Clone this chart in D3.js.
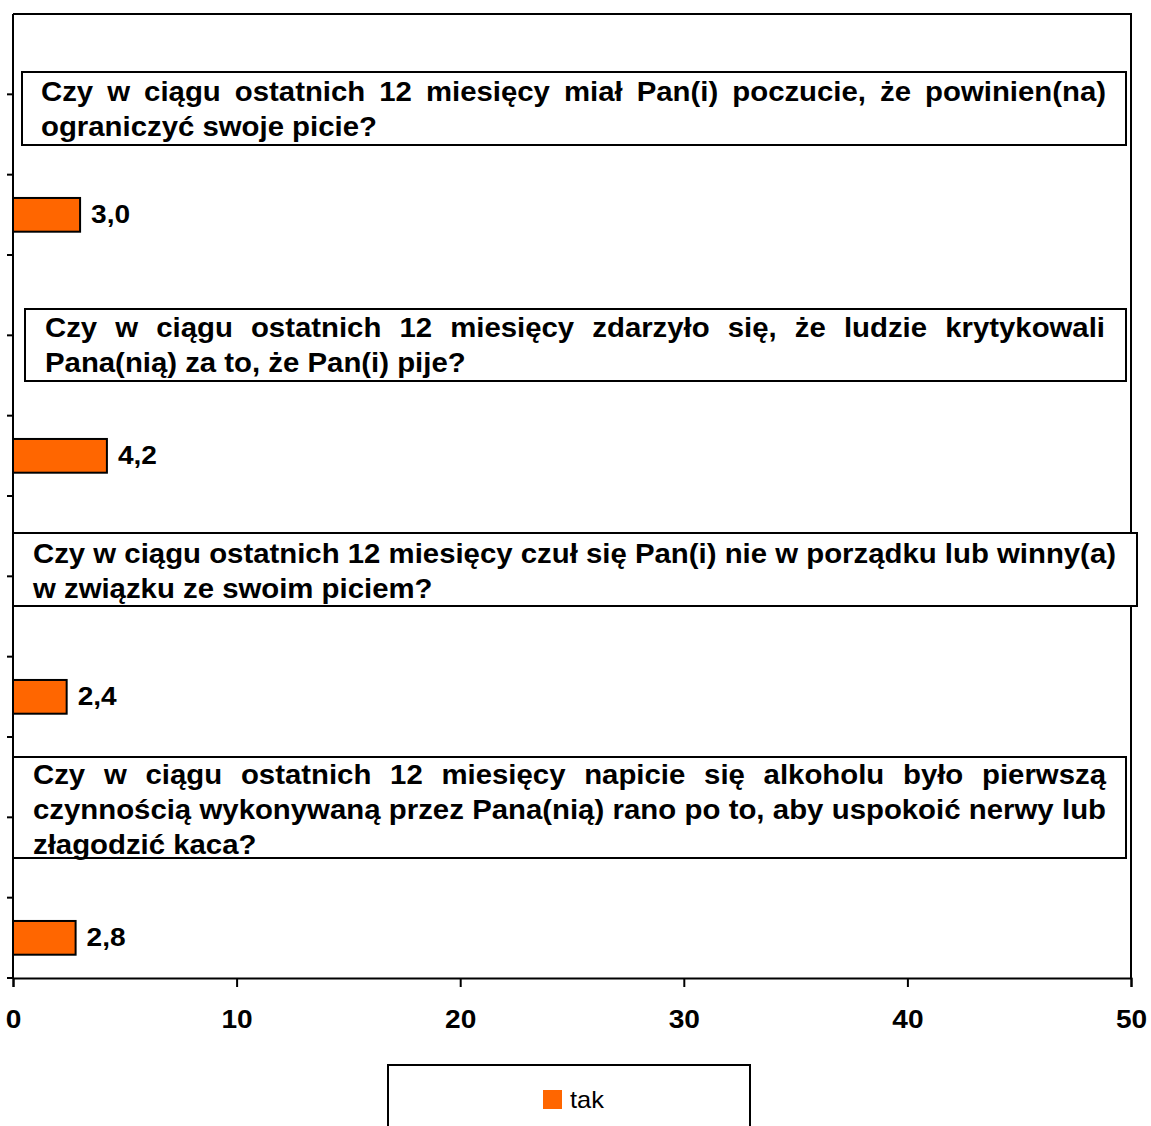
<!DOCTYPE html>
<html><head><meta charset="utf-8">
<script src="https://cdn.jsdelivr.net/npm/d3@7"></script>
<style>
html,body{margin:0;padding:0;background:#fff;}
svg{display:block;}
</style></head>
<body>
<svg id="chart" width="1151" height="1126"></svg>
<script>
// ---- data ----
const questions = [
  ["Czy w ciągu ostatnich 12 miesięcy miał Pan(i) poczucie, że powinien(na)", "ograniczyć swoje picie?"],
  ["Czy w ciągu ostatnich 12 miesięcy zdarzyło się, że ludzie krytykowali", "Pana(nią) za to, że Pan(i) pije?"],
  ["Czy w ciągu ostatnich 12 miesięcy czuł się Pan(i) nie w porządku lub winny(a)", "w związku ze swoim piciem?"],
  ["Czy w ciągu ostatnich 12 miesięcy napicie się alkoholu było pierwszą", "czynnością wykonywaną przez Pana(nią) rano po to, aby uspokoić nerwy lub", "złagodzić kaca?"]
];
const values = [3.0, 4.2, 2.4, 2.8];
const valueLabels = ["3,0", "4,2", "2,4", "2,8"];
const xTicks = [0, 10, 20, 30, 40, 50];
const seriesName = "tak";

// ---- layout ----
const M = {left: 13, top: 14, right: 1131, bottom: 978};
const font = "'Liberation Sans', Arial, Helvetica, sans-serif";
const rowsPerQ = 3;
const nRows = questions.length * rowsPerQ;
const boxLayout = [
  {x0: 22, x1: 1126, y0: 72, y1: 145, tx0: 41, tx1: 1106, firstBase: 101},
  {x0: 25, x1: 1126, y0: 309, y1: 381, tx0: 45, tx1: 1105, firstBase: 337},
  {x0: 13, x1: 1137, y0: 533, y1: 606, tx0: 33, tx1: 1116, firstBase: 562.5},
  {x0: 13, x1: 1126, y0: 757, y1: 858, tx0: 33, tx1: 1106, firstBase: 783.5}
];
const lineH = 35;
const qfs = 27;      // question font size
const lfs = 26;      // labels font size
const labelScale = 1.08;

const svg = d3.select("#chart");
const x = d3.scaleLinear().domain([0, 50]).range([M.left, M.right]);
const y = d3.scaleBand().domain(d3.range(nRows)).range([M.top, M.bottom]).paddingInner(0.58).paddingOuter(0.29);
const yRows = d3.scaleBand().domain(d3.range(nRows)).range([M.top, M.bottom]);

// frame top/right
svg.append("path")
  .attr("d", `M${M.left},${M.top}H${M.right}V${M.bottom}`)
  .attr("fill", "none").attr("stroke", "#000").attr("stroke-width", 2);

// left axis with ticks at row boundaries
const leftTicks = d3.range(1, nRows + 1).map(i => M.top + yRows.step() * i);
svg.append("line").attr("x1", M.left).attr("x2", M.left).attr("y1", M.top).attr("y2", M.bottom)
  .attr("stroke", "#000").attr("stroke-width", 2);
svg.selectAll(".lt").data(leftTicks).join("line")
  .attr("x1", M.left - 6).attr("x2", M.left).attr("y1", d => d).attr("y2", d => d)
  .attr("stroke", "#000").attr("stroke-width", 2);

// bottom axis
const xAxis = d3.axisBottom(x).tickValues(xTicks).tickSize(9).tickPadding(23).tickFormat(d3.format("d"));
const gx = svg.append("g").attr("transform", `translate(0,${M.bottom})`).call(xAxis);
gx.select(".domain").attr("stroke", "#000").attr("stroke-width", 2);
gx.selectAll(".tick line").attr("stroke", "#000").attr("stroke-width", 2);
gx.selectAll(".tick text").attr("font-family", font).attr("font-size", lfs).attr("font-weight", "bold")
  .attr("fill", "#000").attr("transform", `scale(${labelScale},1)`);

// bars
const barRow = i => i * rowsPerQ + 2;
svg.selectAll(".bar").data(values).join("rect")
  .attr("x", x(0)).attr("y", (d, i) => y(barRow(i)))
  .attr("width", d => x(d) - x(0)).attr("height", y.bandwidth())
  .attr("fill", "#FF6600").attr("stroke", "#000").attr("stroke-width", 2);
svg.selectAll(".vl").data(values).join("text")
  .attr("transform", (d, i) => `translate(${x(d) + 11},${y(barRow(i)) + y.bandwidth() / 2 + 8.5}) scale(${labelScale},1)`)
  .attr("font-family", font).attr("font-size", lfs).attr("font-weight", "bold")
  .text((d, i) => valueLabels[i]);

// measure helper
function measure(str, size, weight) {
  const t = svg.append("text").attr("font-family", font).attr("font-size", size)
    .attr("font-weight", weight).attr("xml:space", "preserve").text(str);
  const w = t.node().getComputedTextLength(); t.remove(); return w;
}
// horizontal stretch of question text, derived from the unjustified line of box 3
const refLine = questions[2][0];
const qScale = (boxLayout[2].tx1 - boxLayout[2].tx0) / measure(refLine, qfs, "bold");
const spaceW = measure("a a", qfs, "bold") - measure("aa", qfs, "bold");

// question boxes
questions.forEach((lines, qi) => {
  const b = boxLayout[qi];
  svg.append("rect").attr("x", b.x0).attr("y", b.y0).attr("width", b.x1 - b.x0).attr("height", b.y1 - b.y0)
    .attr("fill", "#fff").attr("stroke", "#000").attr("stroke-width", 2);
  lines.forEach((line, li) => {
    const base = b.firstBase + li * lineH;
    const isLast = li === lines.length - 1;
    const words = line.split(" ");
    const g = svg.append("g").attr("transform", `translate(${b.tx0},${base}) scale(${qScale},1)`);
    const ts = words.map(w => g.append("text")
      .attr("font-family", font).attr("font-size", qfs).attr("font-weight", "bold").text(w));
    const widths = ts.map(t => t.node().getComputedTextLength());
    const total = d3.sum(widths);
    const avail = (b.tx1 - b.tx0) / qScale;
    let gap = spaceW;
    if (!isLast && words.length > 1) gap = Math.max(spaceW * 0.8, (avail - total) / (words.length - 1));
    let cx = 0;
    ts.forEach((t, k) => { t.attr("x", cx); cx += widths[k] + gap; });
  });
});

// legend
svg.append("rect").attr("x", 388).attr("y", 1065).attr("width", 362).attr("height", 80)
  .attr("fill", "#fff").attr("stroke", "#000").attr("stroke-width", 2);
svg.append("rect").attr("x", 543).attr("y", 1090).attr("width", 19).attr("height", 19).attr("fill", "#FF6600");
svg.append("text").attr("transform", "translate(570,1108) scale(1.06,1)")
  .attr("font-family", font).attr("font-size", 24).text(seriesName);
</script>
</body></html>
